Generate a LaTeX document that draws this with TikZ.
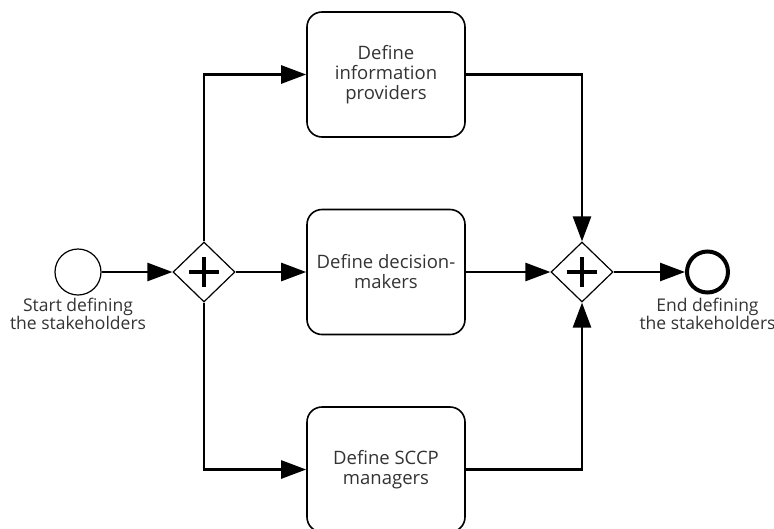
\documentclass[tikz,border=0pt]{standalone}
\usepackage{fontspec}
\setmainfont{Open Sans}
\usetikzlibrary{positioning, arrows.meta, shapes.geometric}

\begin{document}
\begin{tikzpicture}[x=1pt, y=-1pt, >={Triangle[length=25pt, width=18pt]},
  task/.style={draw, line width=1.6pt, rounded corners=15pt, align=center,
               minimum width=158pt, minimum height=125pt, inner sep=0pt,
               font=\fontsize{18.5}{20}\selectfont, text=black!80},
  gw/.style={diamond, draw, line width=1.2pt, aspect=1, inner sep=0pt,
             minimum width=62pt, minimum height=60pt,
             path picture={\draw[line width=4.5pt]
               (path picture bounding box.center) ++(-15pt,0pt) -- ++(30pt,0pt)
               (path picture bounding box.center) ++(0pt,-15pt) -- ++(0pt,30pt);}},
  ev/.style={circle, draw, inner sep=0pt},
  lbl/.style={align=center, inner sep=0pt, text=black!80,
              font=\fontsize{17.5}{15.5}\selectfont},
  s/.style={->, line width=2.6pt}]
\useasboundingbox (0,0) rectangle (774,528);
% Events and gateways on the middle line.
\node[ev, minimum size=46pt, line width=1.2pt] (start) at (78,272) {};
\node[lbl, below=2pt of start] (startlbl) {Start defining\\the stakeholders};
\node[gw] (split) at (204,272) {};
\node[gw] (join) at (582,272) {};
\node[ev, minimum size=41pt, line width=4pt] (finish) at (707.5,272) {};
\node[lbl, below=3pt of finish] (finishlbl) {End defining\\the stakeholders};
% The three parallel tasks.
\node[task] (info) at (386,74.5) {Define\\information\\providers};
\node[task] (decide) at (386,272) {Define decision-\\makers};
\node[task] (sccp) at (386,469.5) {Define SCCP\\managers};
% Sequence flows.
\draw[s] (start) -- (split);
\draw[s] (split.north) |- (info.west);
\draw[s] (split) -- (decide);
\draw[s] (split.south) |- (sccp.west);
\draw[s] (info.east) -| (join.north);
\draw[s] (decide) -- (join);
\draw[s] (sccp.east) -| (join.south);
\draw[s] (join) -- (finish);
\end{tikzpicture}
\end{document}
